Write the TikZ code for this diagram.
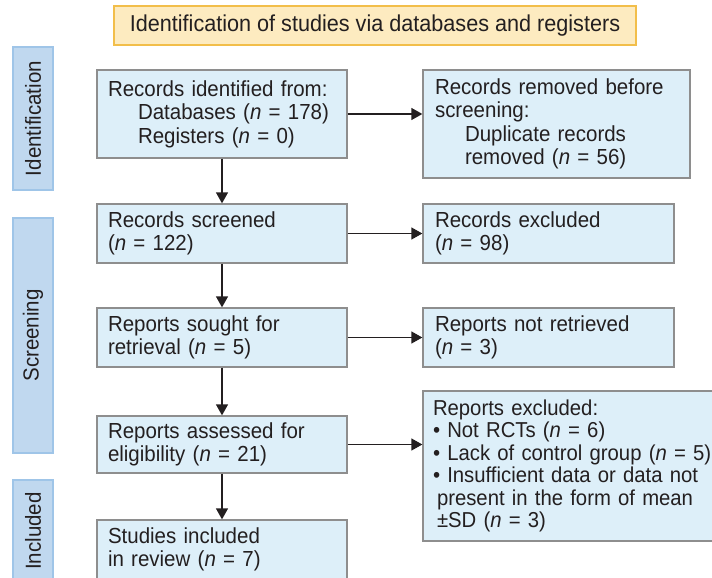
\documentclass[tikz,border=0pt]{standalone}
\usepackage{fontspec}
\setmainfont{Liberation Sans}[FakeStretch=0.94]
\usetikzlibrary{arrows.meta}
\definecolor{boxfill}{HTML}{DDEFF9}
\definecolor{boxline}{HTML}{8E8E8E}
\definecolor{labfill}{HTML}{C0D8EF}
\definecolor{labline}{HTML}{9FC5E8}
\definecolor{titfill}{HTML}{FDEBC0}
\definecolor{titline}{HTML}{F2BE4A}
\definecolor{ink}{HTML}{231F20}
\newcommand{\nn}{\textit{n}}
\begin{document}
\begin{tikzpicture}[x=1pt,y=-1pt,
  every node/.style={font=\fontsize{21.8}{23.5}\selectfont, text=ink},
  flowbox/.style={draw=boxline, fill=boxfill, line width=1.3pt, inner xsep=11pt, inner ysep=0pt, align=left},
  sidelab/.style={draw=labline, fill=labfill, line width=1.3pt, rotate=90, inner sep=0pt, minimum height=40pt},
  titlebox/.style={draw=titline, fill=titfill, line width=1.3pt, inner sep=0pt, font=\fontsize{23}{25}\selectfont},
  arr/.style={draw=ink, line width=1.3pt, -{Triangle[length=11pt,width=12pt]}},
]
\useasboundingbox (0,0) rectangle (712,578);
\clip (0,0) rectangle (712,578);

\node[titlebox, minimum width=522pt, minimum height=39pt] (title) at (375,25.5)
  {Identification of studies via databases and registers};

\node[sidelab, minimum width=143pt] (lid) at (33,118.5) {Identification};
\node[sidelab, minimum width=235pt] (lsc) at (33,335.5) {Screening};
\node[sidelab, minimum width=102pt] (lin) at (33,531) {Included};

\node[flowbox, minimum width=250pt, minimum height=88pt, text width=228pt] (b1) at (222,114)
  {Records identified from:\\\hspace*{30pt}Databases (\nn{} = 178)\\\hspace*{30pt}Registers (\nn{} = 0)};
\node[flowbox, inner xsep=12pt, minimum width=267pt, minimum height=108pt, text width=243pt] (b2) at (556.5,124)
  {Records removed before\\screening:\\\hspace*{30pt}Duplicate records\\\hspace*{30pt}removed (\nn{} = 56)};

\node[flowbox, minimum width=250pt, minimum height=59pt, text width=228pt] (b3) at (222,233.5)
  {Records screened\\(\nn{} = 122)};
\node[flowbox, inner xsep=12pt, minimum width=251pt, minimum height=59pt, text width=227pt] (b4) at (548.5,233.5)
  {Records excluded\\(\nn{} = 98)};

\node[flowbox, minimum width=250pt, minimum height=59pt, text width=228pt] (b5) at (222,337.5)
  {Reports sought for\\retrieval (\nn{} = 5)};
\node[flowbox, inner xsep=12pt, minimum width=251pt, minimum height=59pt, text width=227pt] (b6) at (548.5,337.5)
  {Reports not retrieved\\(\nn{} = 3)};

\node[flowbox, minimum width=250pt, minimum height=57pt, text width=228pt] (b7) at (222,444.5)
  {Reports assessed for\\eligibility (\nn{} = 21)};
\node[flowbox, inner xsep=10pt, minimum width=317pt, minimum height=150pt, text width=297pt,
      font=\fontsize{21.6}{22.5}\selectfont] (b8) at (581.5,466)
  {Reports excluded:\\%
   \textbullet{} Not RCTs (\nn{} = 6)\\%
   \textbullet{} Lack of control group (\nn{} = 5)\\%
   \textbullet{} Insufficient data or data not\\%
   \hspace*{4pt}present in the form of mean\\%
   \hspace*{4pt}\textpm SD (\nn{} = 3)};

\node[flowbox, minimum width=250pt, minimum height=59pt, text width=228pt] (b9) at (222,549.5)
  {Studies included\\in review (\nn{} = 7)};

\draw[arr] (b1.east) -- (b1.east -| b2.west);
\draw[arr] (b3) -- (b4);
\draw[arr] (b5) -- (b6);
\draw[arr] (b7.east) -- (b7.east -| b8.west);
\draw[arr] (b1) -- (b3);
\draw[arr] (b3) -- (b5);
\draw[arr] (b5) -- (b7);
\draw[arr] (b7) -- (b9);
\end{tikzpicture}
\end{document}
